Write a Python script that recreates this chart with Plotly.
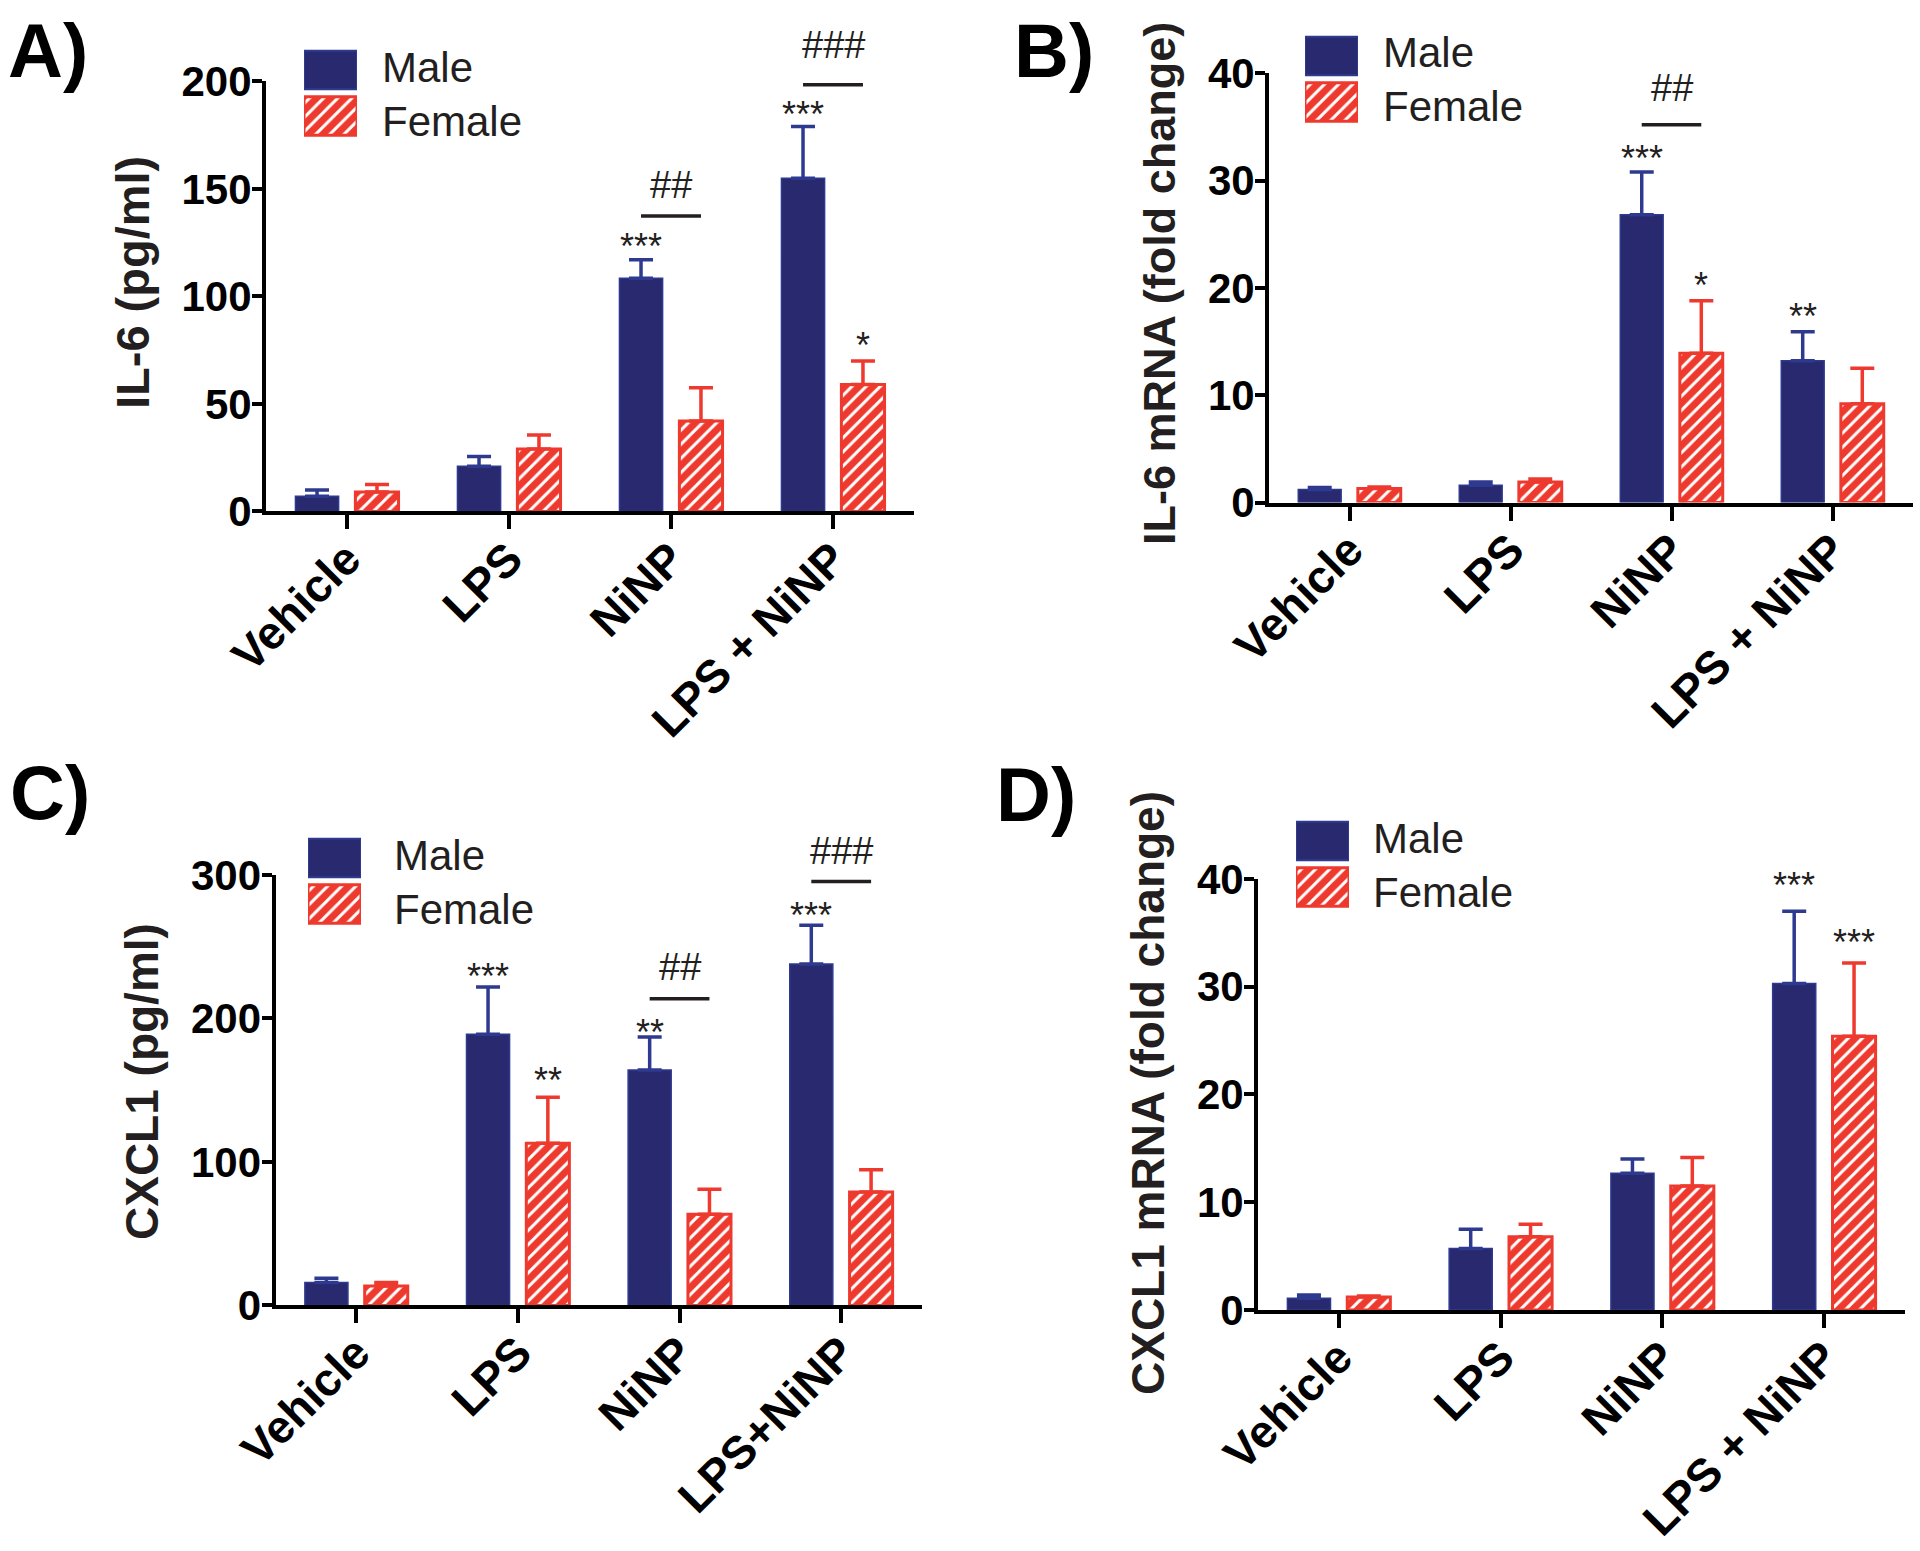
import plotly.graph_objects as go

W, H = 1920, 1551
FONT = "Liberation Sans, Arial, sans-serif"
NAVY = "#28296F"
NAVY_EDGE = "#2E3A8F"
RED = "#EE3A2E"
INK = "#231F20"

# ---------------- data ----------------
categories = ["Vehicle", "LPS", "NiNP", "LPS + NiNP"]
categories_c = ["Vehicle", "LPS", "NiNP", "LPS+NiNP"]

il6_male = [7, 21, 108.5, 155]
il6_male_err = [3, 4.5, 8.5, 24]
il6_female = [9, 29, 42, 59]
il6_female_err = [3.5, 6.5, 15.5, 11]

il6_mrna_male = [1.2, 1.6, 26.8, 13.2]
il6_mrna_male_err = [0.2, 0.3, 4.0, 2.7]
il6_mrna_female = [1.3, 1.9, 13.9, 9.2]
il6_mrna_female_err = [0.15, 0.3, 4.9, 3.3]

cxcl1_male = [16, 189, 164, 238]
cxcl1_male_err = [3, 33, 23, 27]
cxcl1_female = [13.5, 113, 63.5, 79]
cxcl1_female_err = [2.5, 32, 17.5, 15.5]

cxcl1_mrna_male = [1.1, 5.7, 12.7, 30.3]
cxcl1_mrna_male_err = [0.3, 1.8, 1.3, 6.7]
cxcl1_mrna_female = [1.2, 6.8, 11.5, 25.4]
cxcl1_mrna_female_err = [0.1, 1.15, 2.65, 6.8]

# significance marks: (text, group index, sex, y of mark)
stars_a = [("***", 2, "m", 126.9), ("***", 3, "m", 188.5), ("*", 3, "f", 80.9)]
# hash marks: (text, group index, y of bar line, y of label)
hashes_a = [("##", 2, 137.4, 152), ("###", 3, 198.5, 217)]
stars_b = [("***", 2, "m", 32.8), ("*", 2, "f", 21.0), ("**", 3, "m", 18.1)]
hashes_b = [("##", 2, 35.2, 38.6)]
stars_c = [("***", 1, "m", 234.5), ("**", 1, "f", 162.3), ("**", 2, "m", 195.9), ("***", 3, "m", 277.6)]
hashes_c = [("##", 2, 213.8, 235.8), ("###", 3, 295.5, 316.7)]
stars_d = [("***", 3, "m", 40.1), ("***", 3, "f", 34.85)]
hashes_d = []

BARGAP = 0.26
BARGROUPGAP = 0.28
OFF = (1 - BARGAP) / 4  # centre offset of each bar within its group

panels = [
    dict(label="A)", cats=categories, m=il6_male, me=il6_male_err, f=il6_female, fe=il6_female_err,
         title="IL-6 (pg/ml)", title_size=47, yrange=[0, 200], ytickvals=[0, 50, 100, 150, 200],
         xdom=(266, 914), ydom=(81.4, 511.4), title_xy=(132, 283), label_xy=(6, 6),
         leg=(304, 47, 380), stars=stars_a, hashes=hashes_a),
    dict(label="B)", cats=categories, m=il6_mrna_male, me=il6_mrna_male_err, f=il6_mrna_female, fe=il6_mrna_female_err,
         title="IL-6 mRNA (fold change)", title_size=45, yrange=[0, 40], ytickvals=[0, 10, 20, 30, 40],
         xdom=(1269, 1913), ydom=(73.2, 502.5), title_xy=(1160, 284), label_xy=(1012, 6),
         leg=(1305, 33, 1381), stars=stars_b, hashes=hashes_b),
    dict(label="C)", cats=categories_c, m=cxcl1_male, me=cxcl1_male_err, f=cxcl1_female, fe=cxcl1_female_err,
         title="CXCL1 (pg/ml)", title_size=46, yrange=[0, 300], ytickvals=[0, 100, 200, 300],
         xdom=(275.5, 922), ydom=(875, 1305.4), title_xy=(142, 1082), label_xy=(8, 748),
         leg=(308, 835, 392), stars=stars_c, hashes=hashes_c),
    dict(label="D)", cats=categories, m=cxcl1_mrna_male, me=cxcl1_mrna_male_err, f=cxcl1_mrna_female, fe=cxcl1_mrna_female_err,
         title="CXCL1 mRNA (fold change)", title_size=46, yrange=[0, 40], ytickvals=[0, 10, 20, 30, 40],
         xdom=(1258, 1905), ydom=(878.9, 1310), title_xy=(1148, 1093), label_xy=(994, 750),
         leg=(1296, 818, 1371), stars=stars_d, hashes=hashes_d),
]


def fx(p):
    return p / W


def fy(p):
    return 1 - p / H


fig = go.Figure()
layout = dict(
    template="none",
    width=W, height=H, margin=dict(l=0, r=0, t=0, b=0, pad=0), autosize=False,
    paper_bgcolor="white", plot_bgcolor="white",
    barmode="group", bargap=BARGAP, bargroupgap=BARGROUPGAP,
    showlegend=False, font=dict(family=FONT, color=INK),
)
annotations = []
shapes = []

female_pattern = dict(shape="/", bgcolor=RED, fgcolor="white", size=10, solidity=0.3, fillmode="replace")

for i, p in enumerate(panels, start=1):
    xa = "x" if i == 1 else f"x{i}"
    ya = "y" if i == 1 else f"y{i}"
    xname = "xaxis" if i == 1 else f"xaxis{i}"
    yname = "yaxis" if i == 1 else f"yaxis{i}"
    ydom_lo, ydom_hi = fy(p["ydom"][1]), fy(p["ydom"][0])
    r0, r1 = p["yrange"]

    def to_paper_y(v, lo=ydom_lo, hi=ydom_hi, r0=r0, r1=r1):
        return lo + (v - r0) / (r1 - r0) * (hi - lo)

    fig.add_trace(go.Bar(
        x=p["cats"], y=p["m"], name="Male", xaxis=xa, yaxis=ya,
        marker=dict(color=NAVY, line=dict(color=NAVY_EDGE, width=1.5)),
        error_y=dict(type="data", symmetric=False, array=p["me"], arrayminus=[0] * len(p["me"]),
                     color=NAVY_EDGE, thickness=3.5, width=12),
    ))
    fig.add_trace(go.Bar(
        x=p["cats"], y=p["f"], name="Female", xaxis=xa, yaxis=ya,
        marker=dict(color=RED, line=dict(color=RED, width=3), pattern=female_pattern),
        error_y=dict(type="data", symmetric=False, array=p["fe"], arrayminus=[0] * len(p["fe"]),
                     color=RED, thickness=3.5, width=12),
    ))

    layout[xname] = dict(
        domain=[fx(p["xdom"][0]), fx(p["xdom"][1])], anchor=ya, type="category",
        range=[-0.5, 3.5], tickvals=p["cats"], ticktext=p["cats"], automargin=False,
        showline=True, linewidth=4, linecolor="black",
        ticks="outside", ticklen=14, tickwidth=4, tickcolor="black", tickangle=-45,
        ticklabelstandoff=-16,
        tickfont=dict(family=FONT, size=46, color="black", weight="bold"),
        showgrid=False, zeroline=False,
    )
    layout[yname] = dict(
        domain=[ydom_lo, ydom_hi], anchor=xa, automargin=False,
        range=p["yrange"], tickvals=p["ytickvals"],
        showline=True, linewidth=4, linecolor="black",
        ticks="outside", ticklen=10, tickwidth=4, tickcolor="black",
        ticklabelstandoff=-8,
        tickfont=dict(family=FONT, size=42, color="black", weight="bold"),
        showgrid=False, zeroline=False,
    )

    # panel label
    annotations.append(dict(text=p["label"], xref="paper", yref="paper",
                            x=fx(p["label_xy"][0]), y=fy(p["label_xy"][1]),
                            xanchor="left", yanchor="top", showarrow=False,
                            font=dict(family=FONT, size=76, color="black", weight="bold")))
    # y axis title
    annotations.append(dict(text=p["title"], xref="paper", yref="paper",
                            x=fx(p["title_xy"][0]), y=fy(p["title_xy"][1]),
                            xanchor="center", yanchor="middle", textangle=-90, showarrow=False,
                            font=dict(family=FONT, size=p["title_size"], color=INK, weight="bold")))

    # significance stars
    for txt, g, sex, yv in p["stars"]:
        xv = g - OFF if sex == "m" else g + OFF
        annotations.append(dict(text=txt, xref=xa, yref="paper", x=xv, y=to_paper_y(yv),
                                xanchor="center", yanchor="middle", yshift=-8, showarrow=False,
                                font=dict(family=FONT, size=36, color=INK)))
    # significance bars with hashes
    for txt, g, line_y, label_y in p["hashes"]:
        shapes.append(dict(type="line", xref=xa, yref=ya, x0=g - OFF, x1=g + OFF,
                           y0=line_y, y1=line_y, line=dict(color=INK, width=3.5)))
        annotations.append(dict(text=txt, xref=xa, yref="paper", x=g, y=to_paper_y(label_y),
                                xanchor="center", yanchor="middle", showarrow=False,
                                font=dict(family=FONT, size=38, color=INK)))

    # legend swatches drawn as bars on a hidden axis pair
    k = i + 4
    lx0, ly0, ltx = p["leg"]
    lxname, lyname = f"xaxis{k}", f"yaxis{k}"
    layout[lxname] = dict(domain=[fx(lx0), fx(lx0 + 53)], anchor=f"y{k}", range=[0, 1],
                          visible=False, automargin=False)
    layout[lyname] = dict(domain=[fy(ly0 + 92), fy(ly0)], anchor=f"x{k}", type="category",
                          categoryarray=["Female", "Male"], range=[-0.5, 1.5], visible=False,
                          automargin=False)
    fig.add_trace(go.Bar(y=["Male"], x=[1], orientation="h", xaxis=f"x{k}", yaxis=f"y{k}",
                         width=0.84, marker=dict(color=NAVY, line=dict(color=NAVY_EDGE, width=2)),
                         cliponaxis=False, hoverinfo="skip"))
    fig.add_trace(go.Bar(y=["Female"], x=[1], orientation="h", xaxis=f"x{k}", yaxis=f"y{k}",
                         width=0.84, marker=dict(color=RED, line=dict(color=RED, width=3),
                                                 pattern=female_pattern),
                         cliponaxis=False, hoverinfo="skip"))
    for name, row in (("Male", 0), ("Female", 1)):
        annotations.append(dict(text=name, xref="paper", yref="paper",
                                x=fx(ltx), y=fy(ly0 + 20 + row * 54), xanchor="left", yanchor="middle",
                                showarrow=False, font=dict(family=FONT, size=42, color=INK)))

layout["annotations"] = annotations
layout["shapes"] = shapes
fig.update_layout(**layout)

fig.write_html("out.html", config={"displayModeBar": False},
               post_script="document.body.style.margin='0';")
